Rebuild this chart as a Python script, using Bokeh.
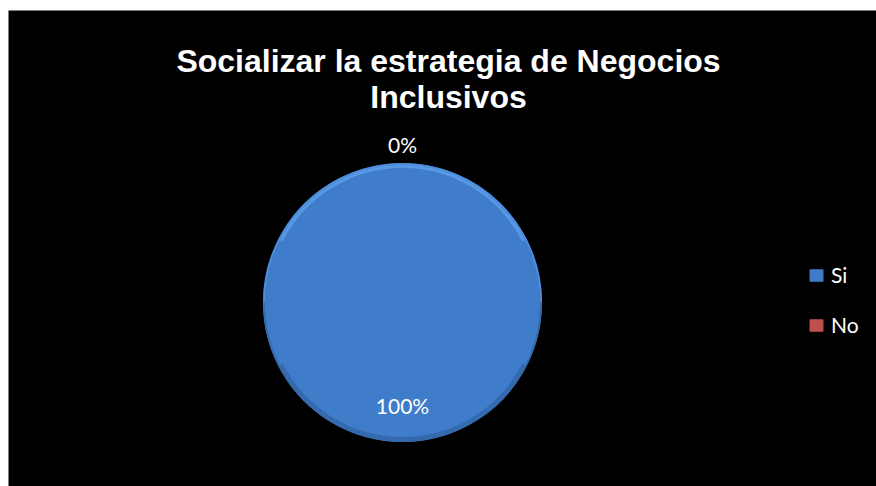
import numpy as np
from bokeh.plotting import figure
from bokeh.models import ColumnDataSource, Legend, LegendItem, Range1d
from bokeh.core.properties import value
from bokeh.embed import file_html
from bokeh.resources import INLINE

# ---- data ----
title_lines = ["Socializar la estrategia de Negocios", "Inclusivos"]
categories = ["Si", "No"]
values = [100, 0]
colors = ["#3F7CC9", "#C0504D"]

W, H = 876, 486
LEFT, TOP = 8, 10
p = figure(width=W, height=H, output_backend="svg", toolbar_location=None,
           x_range=Range1d(LEFT, W), y_range=Range1d(0, H - TOP),
           background_fill_color="black", border_fill_color="white",
           min_border_left=LEFT, min_border_top=TOP, min_border_right=0,
           min_border_bottom=0, outline_line_color=None)
p.xaxis.visible = False
p.yaxis.visible = False
p.grid.visible = False

cx, cy, r = 402, 184, 139
total = float(sum(values))
fracs = np.array(values) / total
sweeps = np.minimum(2 * np.pi * fracs, 2 * np.pi - 1e-4)  # full circle safe for SVG
ends = np.pi / 2 - np.concatenate([[0], np.cumsum(2 * np.pi * fracs)[:-1]]) - sweeps
starts = ends + sweeps
mids = (starts + ends) / 2
pct = [f"{v / total * 100:.0f}%" for v in values]
lab_r = np.where(fracs > 0, 0.74 * r, 1.14 * r)
radii = np.where(fracs > 0, r, 0.0)

src = ColumnDataSource(dict(cat=categories, val=values, start=ends, end=starts,
                            color=colors, pct=pct, rad=radii,
                            lx=cx + lab_r * np.cos(mids), ly=cy + lab_r * np.sin(mids)))

wedges = p.wedge(x=cx, y=cy, radius="rad", start_angle="start", end_angle="end",
                 fill_color="color", line_color="color", line_width=1.2, source=src)

# soft bevel along the rim
p.arc(x=cx, y=cy, radius=r - 0.5, start_angle=0, end_angle=np.pi,
      line_color="#4F8FDD", line_width=1.5)
p.arc(x=cx, y=cy, radius=r - 0.5, start_angle=np.pi, end_angle=2 * np.pi,
      line_color="#3566A6", line_width=1.5)
p.arc(x=cx, y=cy, radius=r - 3, start_angle=np.pi * 0.15, end_angle=np.pi * 0.85,
      line_color="#64A4EE", line_width=3, line_alpha=0.7)
p.arc(x=cx, y=cy, radius=r - 3, start_angle=np.pi * 1.15, end_angle=np.pi * 1.85,
      line_color="#2F5E9C", line_width=3, line_alpha=0.6)

p.text(x="lx", y="ly", text="pct", source=src, text_color="white",
       text_font=value("Lato"), text_font_size="21px",
       text_align="center", text_baseline="middle")

tsrc = ColumnDataSource(dict(x=[448, 448], y=[486 - 60, 486 - 96], t=title_lines))
p.text(x="x", y="y", text="t", source=tsrc, text_color="white",
       text_font=value("Liberation Sans"), text_font_style="bold",
       text_font_size="32px", text_align="center", text_baseline="alphabetic")

items = [LegendItem(label=c, renderers=[wedges], index=i) for i, c in enumerate(categories)]
legend = Legend(items=items, location=(800, 149), orientation="vertical",
                background_fill_alpha=0, border_line_color=None,
                label_text_color="white", label_text_font="Lato",
                label_text_font_size="21px", glyph_width=16, glyph_height=14,
                label_height=22, spacing=25, padding=0, margin=0, label_standoff=7)
p.add_layout(legend, "center")

open("out.html", "w").write(file_html(p, INLINE))
